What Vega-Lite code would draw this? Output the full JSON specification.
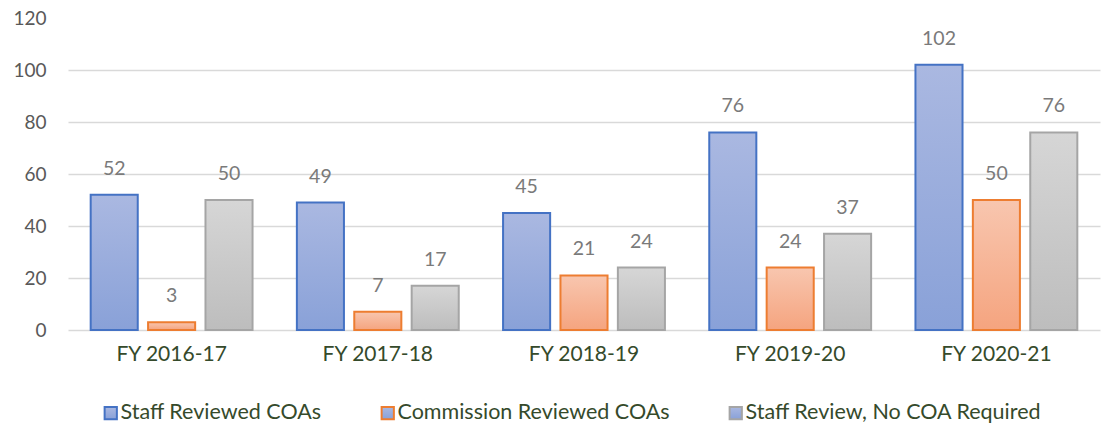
{
  "$schema": "https://vega.github.io/schema/vega-lite/v6.json",
  "width": 1032,
  "height": 312,
  "padding": {"left": 12, "top": 9, "right": 5, "bottom": 5},
  "background": "white",
  "config": {
    "view": {"stroke": null},
    "font": "Lato"
  },
  "data": {
    "values": [
      {"fy": "FY 2016-17", "series": "Staff Reviewed COAs", "value": 52},
      {"fy": "FY 2016-17", "series": "Commission Reviewed COAs", "value": 3},
      {"fy": "FY 2016-17", "series": "Staff Review, No COA Required", "value": 50},
      {"fy": "FY 2017-18", "series": "Staff Reviewed COAs", "value": 49},
      {"fy": "FY 2017-18", "series": "Commission Reviewed COAs", "value": 7},
      {"fy": "FY 2017-18", "series": "Staff Review, No COA Required", "value": 17},
      {"fy": "FY 2018-19", "series": "Staff Reviewed COAs", "value": 45},
      {"fy": "FY 2018-19", "series": "Commission Reviewed COAs", "value": 21},
      {"fy": "FY 2018-19", "series": "Staff Review, No COA Required", "value": 24},
      {"fy": "FY 2019-20", "series": "Staff Reviewed COAs", "value": 76},
      {"fy": "FY 2019-20", "series": "Commission Reviewed COAs", "value": 24},
      {"fy": "FY 2019-20", "series": "Staff Review, No COA Required", "value": 37},
      {"fy": "FY 2020-21", "series": "Staff Reviewed COAs", "value": 102},
      {"fy": "FY 2020-21", "series": "Commission Reviewed COAs", "value": 50},
      {"fy": "FY 2020-21", "series": "Staff Review, No COA Required", "value": 76}
    ]
  },
  "encoding": {
    "x": {
      "field": "fy", "type": "nominal", "sort": null, "title": null,
      "scale": {"paddingInner": 0.215, "paddingOuter": 0.11},
      "axis": {"labelAngle": 0, "domain": false, "ticks": false, "labelPadding": 13, "labelFontSize": 21, "labelColor": "#354a2b", "labelFont": "Lato"}
    },
    "xOffset": {
      "field": "series", "type": "nominal", "sort": ["Staff Reviewed COAs", "Commission Reviewed COAs", "Staff Review, No COA Required"],
      "scale": {"paddingInner": 0.18, "paddingOuter": 0}
    },
    "y": {
      "field": "value", "type": "quantitative", "title": null,
      "scale": {"domain": [0, 120], "nice": false},
      "axis": {"values": [0, 20, 40, 60, 80, 100, 120], "domain": false, "ticks": false, "labelPadding": 22, "labelFontSize": 19, "labelColor": "#595959", "gridColor": "#d9d9d9", "gridWidth": 1.5,
        "gridOpacity": {"condition": {"test": "datum.value == 120", "value": 0}, "value": 1}}
    }
  },
  "layer": [
    {
      "transform": [{"filter": "datum.series == 'Staff Reviewed COAs'"}],
      "mark": {"type": "bar", "strokeWidth": 2, "fill": {"gradient": "linear", "x1": 0, "y1": 0, "x2": 0, "y2": 1, "stops": [{"offset": 0, "color": "#aab8e1"}, {"offset": 1, "color": "#89a1d8"}]}},
      "encoding": {
        "stroke": {"field": "series", "type": "nominal", "sort": ["Staff Reviewed COAs", "Commission Reviewed COAs", "Staff Review, No COA Required"],
          "scale": {"domain": ["Staff Reviewed COAs", "Commission Reviewed COAs", "Staff Review, No COA Required"], "range": ["#4472c4", "#ed7d31", "#a5a5a5"]},
          "legend": {"title": null, "orient": "none", "legendX": 32, "legendY": 384, "direction": "horizontal", "symbolType": "square", "symbolSize": 150, "symbolStrokeWidth": 2, "labelFontSize": 21.5, "labelColor": "#354a2b", "labelFont": "Lato", "labelLimit": 500, "columnPadding": 55, "labelOffset": -1,
            "encode": {"symbols": {"fill": {"value": {"expr": "indexof(datum.value, 'Commission') >= 0 ? '#f7b797' : indexof(datum.value, 'No COA') >= 0 ? '#cacaca' : '#9cafdd'"}}, "stroke": {"value": {"expr": "indexof(datum.value, 'Commission') >= 0 ? '#ed7d31' : indexof(datum.value, 'No COA') >= 0 ? '#a5a5a5' : '#4472c4'"}}, "opacity": {"value": 1}, "fillOpacity": {"value": 1}}}}
        }
      }
    },
    {
      "transform": [{"filter": "datum.series == 'Commission Reviewed COAs'"}],
      "mark": {"type": "bar", "strokeWidth": 2, "fill": {"gradient": "linear", "x1": 0, "y1": 0, "x2": 0, "y2": 1, "stops": [{"offset": 0, "color": "#f8c6af"}, {"offset": 1, "color": "#f5a47f"}]}},
      "encoding": {
        "stroke": {"field": "series", "type": "nominal"}
      }
    },
    {
      "transform": [{"filter": "datum.series == 'Staff Review, No COA Required'"}],
      "mark": {"type": "bar", "strokeWidth": 2, "fill": {"gradient": "linear", "x1": 0, "y1": 0, "x2": 0, "y2": 1, "stops": [{"offset": 0, "color": "#d6d6d6"}, {"offset": 1, "color": "#bdbdbd"}]}},
      "encoding": {
        "stroke": {"field": "series", "type": "nominal"}
      }
    },
    {
      "mark": {"type": "text", "dy": -20, "baseline": "alphabetic", "fontSize": 19.5, "color": "#7a7a7a", "font": "Lato"},
      "encoding": {
        "text": {"field": "value", "type": "quantitative"}
      }
    }
  ]
}
